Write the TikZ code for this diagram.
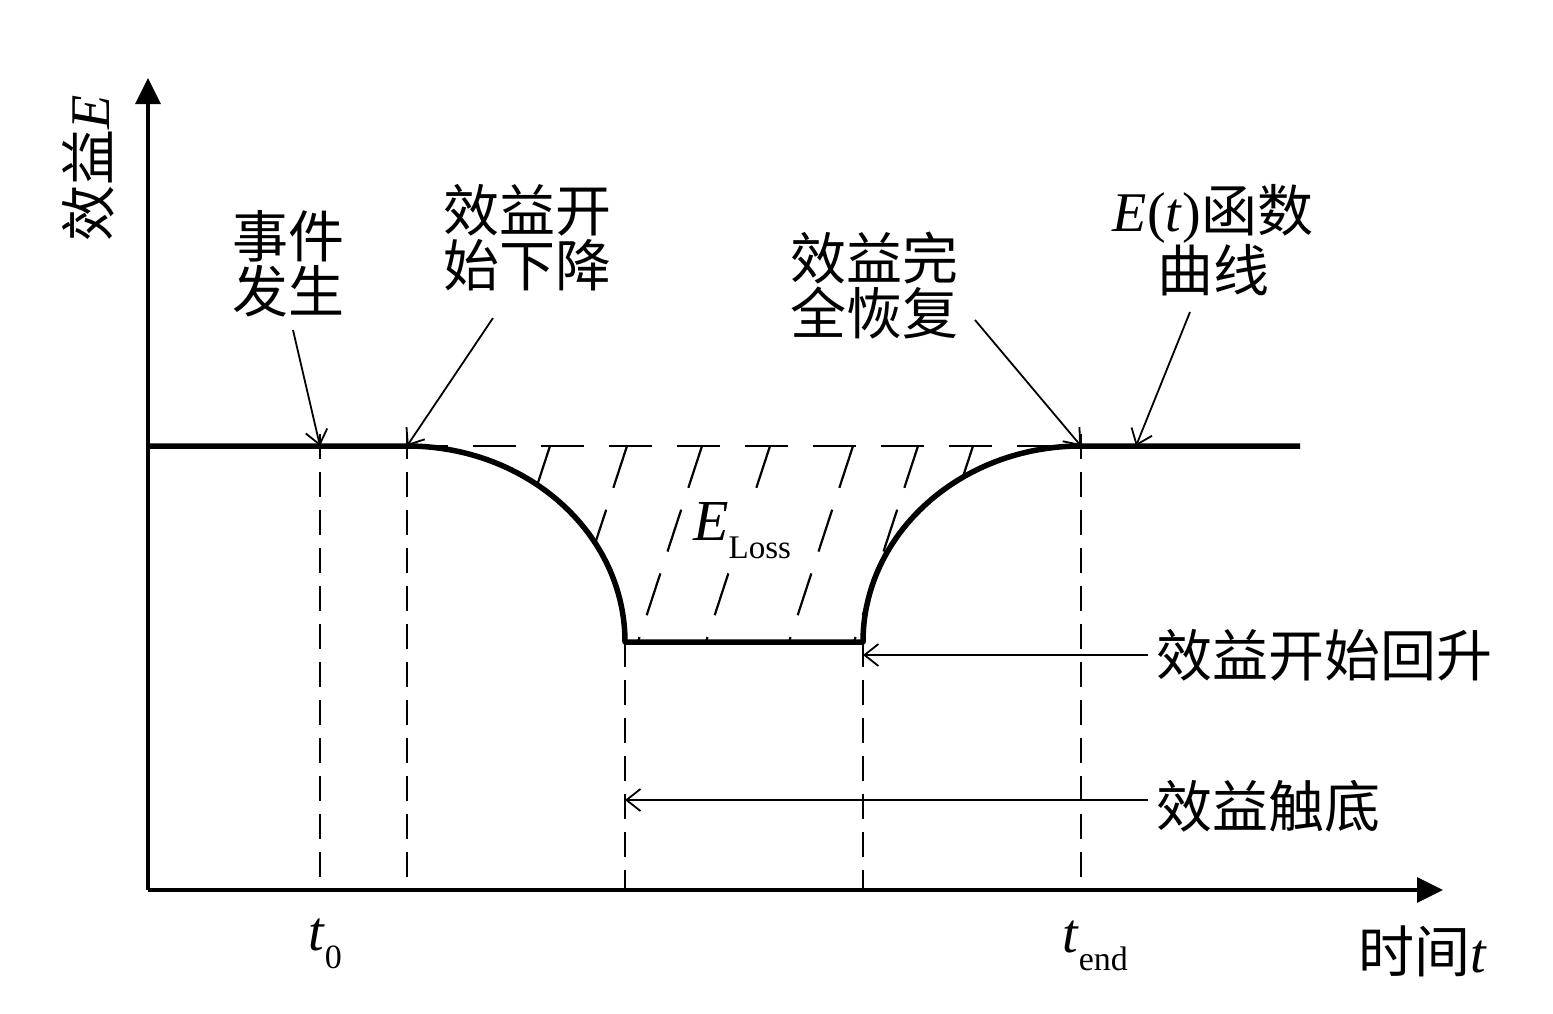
\documentclass[tikz,border=0pt]{standalone}
\usepackage{fontspec}
\setmainfont{Liberation Serif}
\newfontfamily\zhfont{Noto Sans CJK SC}
\usetikzlibrary{arrows.meta}
\begin{document}
\begin{tikzpicture}[x=1pt,y=-1pt,
  axis/.style={line width=3.2pt,-{Triangle[length=26pt,width=25pt]}},
  curvestyle/.style={line width=5.5pt, line join=round},
  guide/.style={line width=2pt, dash pattern=on 25pt off 13pt},
  hatch/.style={line width=2.2pt, dash pattern=on 44pt off 23pt},
  lab/.style={line width=1.8pt, -{Straight Barb[length=14pt,width=22pt,line width=1.8pt]}},
  txt/.style={font=\fontsize{56}{55}\selectfont, align=center, inner sep=0pt},
  rtxt/.style={font=\fontsize{56}{55}\selectfont, inner sep=8pt, anchor=west},
]
\useasboundingbox (0,0) rectangle (1553,1013);
% key points
\coordinate (O) at (148,890);
\coordinate (ytip) at (148,78);
\coordinate (xtip) at (1443,890);
\coordinate (L) at (148,446);
\coordinate (A) at (320,446);
\coordinate (B) at (407,446);
\coordinate (C) at (625,642);
\coordinate (D) at (863,642);
\coordinate (F) at (1081,446);
\coordinate (R) at (1300,446);
\coordinate (G) at (1136,446);
\coordinate (riseT) at (863,655);
\coordinate (botT) at (625,800);
% guides
\draw[guide] (320,434) -- (320,890);
\draw[guide] (407,434) -- (407,890);
\draw[guide] (625,642) -- (625,890);
\draw[guide] (863,642) -- (863,890);
\draw[guide] (1081,434) -- (1081,890);
% hatching
\begin{scope}
  \clip (B) .. controls (527.4,446) and (625,533.7) .. (C) -- (D)
        .. controls (863,533.7) and (960.6,446) .. (F) -- cycle;
  \foreach \hx in {550,627,702,770,853,918,973}
    \draw[hatch] (\hx,446) -- ++(-85,260);
\end{scope}
\draw[line width=2pt, dash pattern=on 43pt off 25pt, dash phase=2pt] (B) -- (F);
\node[anchor=base west, inner sep=3pt, fill=white, font=\fontsize{58}{58}\selectfont] (el) at (690,540)
  {\textit{E}\raisebox{-18pt}{\fontsize{33}{33}\selectfont Loss}};
% curve
\draw[curvestyle] (L) -- (B) .. controls (527.4,446) and (625,533.7) .. (C) -- (D)
   .. controls (863,533.7) and (960.6,446) .. (F) -- (R);
% axes
\draw[axis] (O) -- (ytip);
\draw[axis] (O) -- (xtip);
% labels
\node[txt] (ev) at (288,264) {\zhfont 事件\\\zhfont 发生};
\node[txt] (dec) at (527,238) {\zhfont 效益开\\\zhfont 始下降};
\node[txt] (rec) at (874,286) {\zhfont 效益完\\\zhfont 全恢复};
\node[txt] (fn) at (1213,240) {\textit{E}(\textit{t}){\zhfont 函数}\\\zhfont 曲线};
\node[rtxt] (rise) at (1148,655) {\zhfont 效益开始回升};
\node[rtxt] (bot) at (1148,806) {\zhfont 效益触底};
\node[txt, rotate=90] (yl) at (88,168) {{\zhfont 效益}\textit{E}};
\node[anchor=base west, inner sep=0pt, font=\fontsize{56}{56}\selectfont] (t0) at (308,950)
  {\textit{t}\raisebox{-18pt}{\fontsize{34}{34}\selectfont 0}};
\node[anchor=base west, inner sep=0pt, font=\fontsize{56}{56}\selectfont] (tend) at (1062,952)
  {\textit{t}\raisebox{-18pt}{\fontsize{34}{34}\selectfont end}};
\node[anchor=base west, inner sep=0pt, font=\fontsize{56}{56}\selectfont] (tl) at (1358,972)
  {{\zhfont 时间}\textit{t}};
% label connectors
\coordinate (evs) at (293,330);
\coordinate (decs) at (493,318);
\coordinate (recs) at (975,320);
\coordinate (fns) at (1190,312);
\draw[lab] (evs) -- (A);
\draw[lab] (decs) -- (B);
\draw[lab] (recs) -- (F);
\draw[lab] (fns) -- (G);
\draw[lab] (rise.west) -- (riseT);
\draw[lab] (bot.west |- botT) -- (botT);
\end{tikzpicture}
\end{document}
